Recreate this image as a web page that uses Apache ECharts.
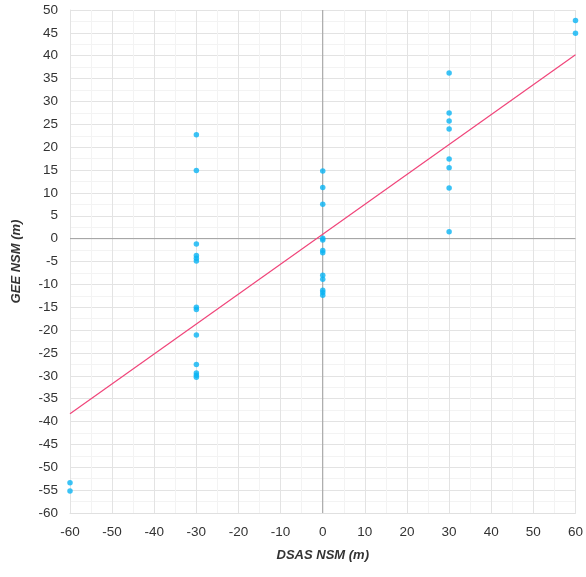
<!DOCTYPE html>
<html><head><meta charset="utf-8">
<script src="https://cdn.jsdelivr.net/npm/echarts@6/dist/echarts.min.js"></script>
<style>html,body{margin:0;padding:0;background:#fff}#c{width:586px;height:577px}</style>
</head><body><div id="c"></div>
<script>
const dsasX = [-60,-60,
  -30,-30,-30,-30,-30,-30,-30,-30,-30,-30,-30,-30,-30,
  0,0,0,0,0,0,0,0,0,0,0,0,
  30,30,30,30,30,30,30,30,
  60,60];
const geeY = [-53.4,-55.2,
  22.7,14.9,-1.2,-3.7,-4.3,-4.9,-15.0,-15.5,-21.1,-27.5,-29.4,-29.9,-30.3,
  14.8,11.2,7.5,0.1,-0.3,-2.6,-3.1,-8.0,-8.9,-11.3,-11.8,-12.4,
  36.2,27.5,25.7,24.0,17.4,15.5,11.1,1.5,
  47.7,44.9];
const trendX = [-60, 60];
const trendY = [-38.3, 40.2];
const xTicks = {min:-60, max:60, interval:10};
const yTicks = {min:-60, max:50, interval:5};

const pts = dsasX.map((x,i)=>[x, geeY[i]]);
const line = trendX.map((x,i)=>[x, trendY[i]]);
const chart = echarts.init(document.getElementById('c'));
const lbl = {color:'#333', fontSize:13.5, fontFamily:'Liberation Sans, Arial, sans-serif'};
const nameStyle = {color:'#333', fontSize:13, fontWeight:'bold', fontStyle:'italic', fontFamily:'Liberation Sans, Arial, sans-serif'};
chart.setOption({
  animation:false,
  grid:{left:70, right:9, top:10, bottom:64, show:false},
  xAxis:{type:'value', min:xTicks.min, max:xTicks.max, interval:xTicks.interval,
    name:'DSAS NSM (m)', nameLocation:'middle', nameGap:36, nameTextStyle:nameStyle,
    axisLine:{onZero:false, show:true, lineStyle:{color:'#e0e0e0'}}, axisTick:{show:false},
    axisLabel:Object.assign({margin:12}, lbl),
    splitLine:{show:true, lineStyle:{color:'#e3e3e3', width:1}},
    minorTick:{show:false, splitNumber:2},
    minorSplitLine:{show:true, lineStyle:{color:'#f3f3f3', width:1}}},
  yAxis:{type:'value', min:yTicks.min, max:yTicks.max, interval:yTicks.interval,
    name:'GEE NSM (m)', nameLocation:'middle', nameGap:47, nameTextStyle:nameStyle,
    axisLine:{show:true, onZero:false, lineStyle:{color:'#e3e3e3'}}, axisTick:{show:false},
    axisLabel:Object.assign({margin:12}, lbl),
    splitLine:{show:true, lineStyle:{color:'#e3e3e3', width:1}},
    minorTick:{show:false, splitNumber:2},
    minorSplitLine:{show:true, lineStyle:{color:'#f3f3f3', width:1}}},
  series:[
    {type:'line', data:[[0,-60],[0,50]], symbol:'none', silent:true,
      lineStyle:{color:'#9e9e9e', width:1}, z:1},
    {type:'line', data:[[-60,0],[60,0]], symbol:'none', silent:true,
      lineStyle:{color:'#9e9e9e', width:1}, z:1},
    {type:'line', data:line, symbol:'none', lineStyle:{color:'#f0457a', width:1.2}, z:2},
    {type:'scatter', data:pts, symbolSize:5.5, itemStyle:{color:'#0ab4f4'}, z:3}
  ]
});
</script></body></html>
